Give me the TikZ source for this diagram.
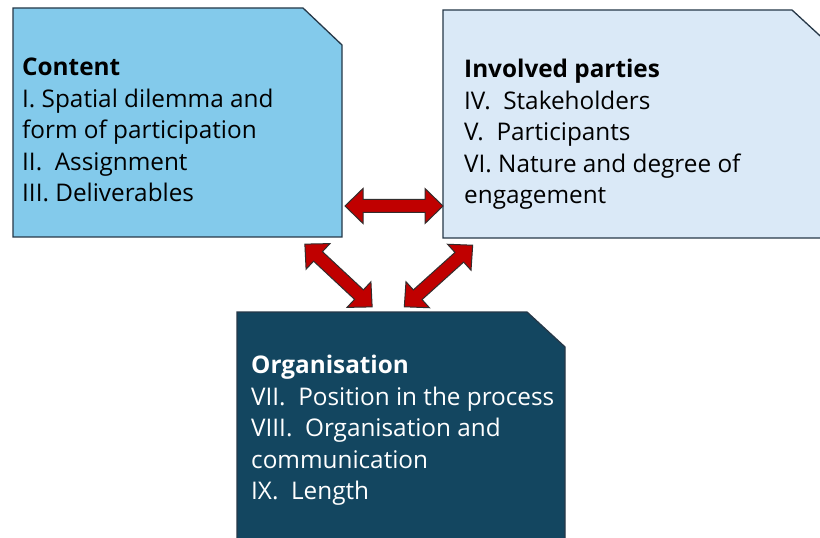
\documentclass[tikz,border=0pt]{standalone}
\usepackage{fontspec}
\setmainfont{Open Sans}
\definecolor{contentfill}{RGB}{131,202,235}
\definecolor{partyfill}{RGB}{218,233,247}
\definecolor{orgfill}{RGB}{19,70,96}
\definecolor{boxline}{RGB}{38,56,72}
\definecolor{arrowred}{RGB}{192,0,0}
\definecolor{arrowline}{RGB}{50,45,45}
\tikzset{
  panel/.style={draw=boxline, line width=1.3bp},
  paneltext/.style={inner sep=0pt, anchor=north west, align=left,
    font=\fontsize{24.4}{31.6}\selectfont},
  linkarrow/.style={draw=arrowline, fill=arrowred, line width=1bp, line join=miter},
}
% block two-way arrow: #1 centre, #2 angle, #3 half length
\newcommand\twowayarrow[3]{%
  \begin{scope}[shift={#1}, rotate=#2]
    \draw[linkarrow] (-#3,0) -- (-#3+18,17.5) -- (-#3+18,6.5) -- (#3-18,6.5)
      -- (#3-18,17.5) -- (#3,0) -- (#3-18,-17.5) -- (#3-18,-6.5)
      -- (-#3+18,-6.5) -- (-#3+18,-17.5) -- cycle;
  \end{scope}}
\begin{document}
\begin{tikzpicture}[x=1bp,y=-1bp]
\useasboundingbox (0,0) rectangle (820,538);
\clip (0,0) rectangle (820,538);
\fill[white] (0,0) rectangle (820,538);

% the three snipped-corner panels
\draw[panel, fill=contentfill] (13,8) -- (303,8) -- (342,45) -- (342,237) -- (13,237) -- cycle;
\draw[panel, fill=partyfill] (443,10) -- (792,10) -- (830,45) -- (830,238) -- (443,238) -- cycle;
\draw[panel, fill=orgfill] (237,312) -- (527,312) -- (565,347) -- (565,560) -- (237,560) -- cycle;

% panel texts
\node[paneltext] (content) at (22,58) {\textbf{Content}\\I. Spatial dilemma and\\form of participation\\II.\ \ Assignment\\III. Deliverables};
\node[paneltext] (parties) at (464,59) {\textbf{Involved parties}\\IV.\ \ Stakeholders\\V.\ \ Participants\\VI. Nature and degree of\\engagement};
\node[paneltext, text=white] (organisation) at (251,355) {\textbf{Organisation}\\VII.\ \ Position in the process\\VIII.\ \ Organisation and\\communication\\IX.\ \ Length};

% two-way links between the panels
\twowayarrow{(394,206)}{0}{49}
\twowayarrow{(338.5,275.5)}{-43}{46}
\twowayarrow{(438.5,276)}{42}{46}
\end{tikzpicture}
\end{document}
